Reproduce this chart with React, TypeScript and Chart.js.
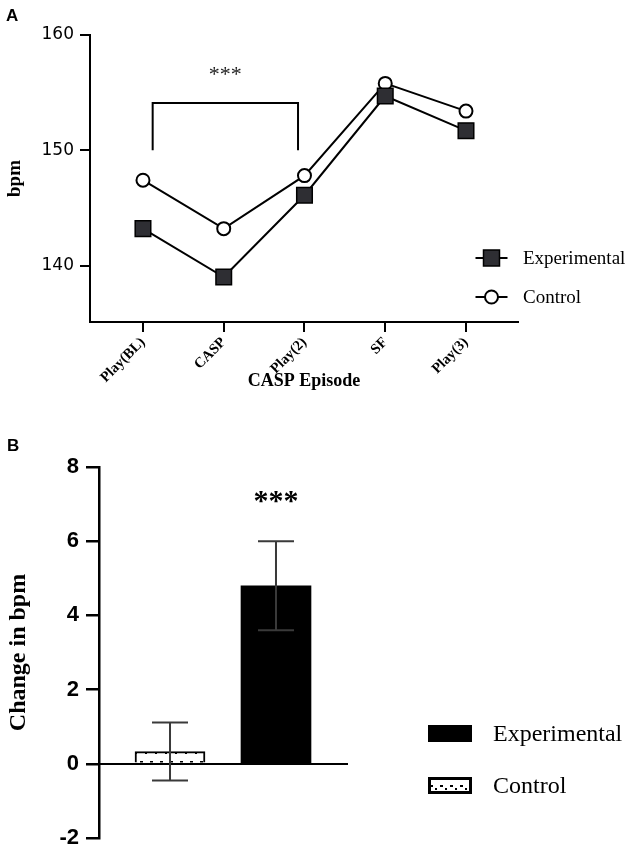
import React, { useEffect, useRef } from "react";
import { Chart, registerables } from "chart.js";

Chart.register(...registerables);

// ---------- Data (panel A) ----------
const episodes = ["Play(BL)", "CASP", "Play(2)", "SF", "Play(3)"];
const experimentalBpm = [143.2, 139.0, 146.1, 154.7, 151.7];
const controlBpm = [147.4, 143.2, 147.8, 155.8, 153.4];
const bpmTicks = [140, 150, 160];
const seriesLabels = ["Experimental", "Control"];

// significance bracket between Play(BL) and Play(2) (data units)
const bracketX = [0.12, 1.92];
const bracketY = [150, 154.1];
const bracketStarPos = [1.02, 156.9];

// ---------- Data (panel B) ----------
const groupsB = ["Control", "Experimental"];
const changeMeans = [0.33, 4.8];
const changeErrors = [0.78, 1.2];
const changeTicks = [-2, 0, 2, 4, 6, 8];
const starPosB = [1, 7.2];

const serif = "'Liberation Serif', 'Times New Roman', serif";
const sans = "'Liberation Sans', Arial, sans-serif";
const wideSans = "'DejaVu Sans', 'Liberation Sans', sans-serif";

function makePattern(): CanvasPattern | string {
  const c = document.createElement("canvas");
  c.width = 10;
  c.height = 12;
  const g = c.getContext("2d");
  if (!g) return "#fff";
  g.fillStyle = "#fff";
  g.fillRect(0, 0, 10, 12);
  g.fillStyle = "#000";
  g.fillRect(0, 5, 3, 2);
  g.fillRect(5, 8, 2, 2);
  const ctx = document.createElement("canvas").getContext("2d");
  return ctx ? (ctx.createPattern(c, "repeat") as CanvasPattern) : "#fff";
}

export default function App() {
  const refA = useRef<HTMLCanvasElement | null>(null);
  const refB = useRef<HTMLCanvasElement | null>(null);

  useEffect(() => {
    if (!refA.current || !refB.current) return;

    const annotA = {
      id: "annotA",
      afterDatasetsDraw(chart: any) {
        const { ctx } = chart;
        const xs = chart.scales.x;
        const ys = chart.scales.y;
        ctx.save();
        // bracket
        const x1 = xs.getPixelForValue(bracketX[0]);
        const x2 = xs.getPixelForValue(bracketX[1]);
        const yb = ys.getPixelForValue(bracketY[0]);
        const yt = ys.getPixelForValue(bracketY[1]);
        ctx.strokeStyle = "#000";
        ctx.lineWidth = 2;
        ctx.beginPath();
        ctx.moveTo(x1, yb);
        ctx.lineTo(x1, yt);
        ctx.lineTo(x2, yt);
        ctx.lineTo(x2, yb);
        ctx.stroke();
        ctx.fillStyle = "#222";
        ctx.font = `22px ${serif}`;
        ctx.textAlign = "center";
        ctx.textBaseline = "middle";
        ctx.fillText("***", xs.getPixelForValue(bracketStarPos[0]), ys.getPixelForValue(bracketStarPos[1]) + 4);

        // panel letter
        ctx.fillStyle = "#000";
        ctx.font = `bold 17px ${sans}`;
        ctx.textAlign = "left";
        ctx.textBaseline = "middle";
        ctx.fillText("A", 6, 16);

        // legend
        const lx = 491.5;
        const rows = [258, 297];
        rows.forEach((y, i) => {
          ctx.strokeStyle = "#000";
          ctx.lineWidth = 2;
          ctx.beginPath();
          ctx.moveTo(lx - 16, y);
          ctx.lineTo(lx + 16, y);
          ctx.stroke();
          if (i === 0) {
            ctx.fillStyle = "#2e2e33";
            ctx.fillRect(lx - 8, y - 8, 16, 16);
            ctx.lineWidth = 1.5;
            ctx.strokeRect(lx - 8, y - 8, 16, 16);
          } else {
            ctx.fillStyle = "#fff";
            ctx.beginPath();
            ctx.arc(lx, y, 6.5, 0, Math.PI * 2);
            ctx.fill();
            ctx.lineWidth = 2;
            ctx.stroke();
          }
          ctx.fillStyle = "#000";
          ctx.font = `19px ${serif}`;
          ctx.textAlign = "left";
          ctx.textBaseline = "middle";
          ctx.fillText(seriesLabels[i], 523, y + 1);
        });
        ctx.restore();
      },
    };

    const chartA = new Chart(refA.current, {
      type: "line",
      data: {
        datasets: [
          {
            label: seriesLabels[0],
            data: experimentalBpm.map((y, i) => ({ x: i, y })),
            borderColor: "#000",
            borderWidth: 2,
            pointStyle: "rect",
            pointRadius: 11,
            pointBackgroundColor: "#2e2e33",
            pointBorderColor: "#000",
            pointBorderWidth: 1.5,
            fill: false,
            tension: 0,
          },
          {
            label: seriesLabels[1],
            data: controlBpm.map((y, i) => ({ x: i, y })),
            borderColor: "#000",
            borderWidth: 2,
            pointStyle: "circle",
            pointRadius: 6.5,
            pointBackgroundColor: "#fff",
            pointBorderColor: "#000",
            pointBorderWidth: 2,
            fill: false,
            tension: 0,
          },
        ],
      },
      options: {
        animation: false,
        responsive: false,
        layout: { padding: { left: 0, top: 35, right: 112, bottom: 455 } },
        plugins: { legend: { display: false }, tooltip: { enabled: false } },
        scales: {
          x: {
            type: "linear",
            min: -0.656,
            max: 4.644,
            offset: false,
            afterBuildTicks: (s: any) => {
              s.ticks = episodes.map((_, i) => ({ value: i }));
            },
            afterFit: (s: any) => {
              s.height = 74;
            },
            ticks: {
              autoSkip: false,
              minRotation: 45,
              maxRotation: 45,
              padding: 2,
              color: "#000",
              font: { family: serif, size: 14.5, weight: "bold" },
              callback: (v: any) => episodes[v] ?? "",
            },
            grid: { drawOnChartArea: false, drawTicks: true, tickLength: 10, color: "#000", lineWidth: 2 },
            border: { display: true, color: "#000", width: 2 },
            title: {
              display: true,
              text: "CASP Episode",
              color: "#000",
              font: { family: serif, size: 18, weight: "bold" },
            },
          },
          y: {
            type: "linear",
            min: 135.1,
            max: 160,
            afterBuildTicks: (s: any) => {
              s.ticks = bpmTicks.map((v) => ({ value: v }));
            },
            afterFit: (s: any) => {
              s.width = 90;
            },
            ticks: { color: "#000", padding: 6, font: { family: wideSans, size: 17 } },
            grid: { drawOnChartArea: false, drawTicks: true, tickLength: 10, color: "#000", lineWidth: 2 },
            border: { display: true, color: "#000", width: 2 },
            title: {
              display: true,
              text: "bpm",
              color: "#000",
              font: { family: serif, size: 19, weight: "bold" },
            },
          },
        },
      },
      plugins: [annotA],
    } as any);

    const pattern = makePattern();

    const annotB = {
      id: "annotB",
      afterDatasetsDraw(chart: any) {
        const { ctx } = chart;
        const xs = chart.scales.x;
        const ys = chart.scales.y;
        ctx.save();
        // error bars
        ctx.strokeStyle = "#3a3a3a";
        ctx.lineWidth = 2;
        changeMeans.forEach((m, i) => {
          const x = xs.getPixelForValue(i);
          const yTop = ys.getPixelForValue(m + changeErrors[i]);
          const yBot = ys.getPixelForValue(m - changeErrors[i]);
          ctx.beginPath();
          ctx.moveTo(x, yTop);
          ctx.lineTo(x, yBot);
          ctx.moveTo(x - 18, yTop);
          ctx.lineTo(x + 18, yTop);
          ctx.moveTo(x - 18, yBot);
          ctx.lineTo(x + 18, yBot);
          ctx.stroke();
        });
        // significance
        ctx.fillStyle = "#000";
        ctx.font = `bold 30px ${serif}`;
        ctx.textAlign = "center";
        ctx.textBaseline = "middle";
        ctx.fillText("***", xs.getPixelForValue(starPosB[0]), ys.getPixelForValue(starPosB[1]) + 6);

        // panel letter
        ctx.font = `bold 17px ${sans}`;
        ctx.textAlign = "left";
        ctx.fillText("B", 7, 446);

        // legend
        const bx = 428;
        const rows = [733.5, 785.5];
        const order = [1, 0];
        rows.forEach((y, k) => {
          const i = order[k];
          if (i === 1) {
            ctx.fillStyle = "#000";
            ctx.fillRect(bx, y - 8.5, 44, 17);
          } else {
            ctx.fillStyle = pattern;
            ctx.fillRect(bx, y - 8.5, 44, 17);
            ctx.strokeStyle = "#000";
            ctx.lineWidth = 3;
            ctx.strokeRect(bx + 1.5, y - 7, 41, 14);
          }
          ctx.fillStyle = "#000";
          ctx.font = `24px ${serif}`;
          ctx.textAlign = "left";
          ctx.textBaseline = "middle";
          ctx.fillText(groupsB[i], 493, y + 1);
        });
        ctx.restore();
      },
    };

    const chartB = new Chart(refB.current, {
      type: "bar",
      data: {
        datasets: [
          {
            label: groupsB[0],
            data: [{ x: 0, y: changeMeans[0] }],
            backgroundColor: pattern,
            borderColor: "#000",
            borderWidth: 2,
            barThickness: 70,
            grouped: false,
          },
          {
            label: groupsB[1],
            data: [{ x: 1, y: changeMeans[1] }],
            backgroundColor: "#000",
            borderWidth: 0,
            barThickness: 70,
            grouped: false,
          },
        ],
      },
      options: {
        animation: false,
        responsive: false,
        layout: { padding: { left: 0, top: 467, right: 283, bottom: 13 } },
        plugins: { legend: { display: false }, tooltip: { enabled: false } },
        scales: {
          x: {
            type: "linear",
            min: -0.67,
            max: 1.67,
            offset: false,
            position: { y: 0 },
            ticks: { display: false },
            grid: { display: false },
            border: { display: true, color: "#000", width: 2 },
          },
          y: {
            type: "linear",
            min: -2,
            max: 8,
            afterBuildTicks: (s: any) => {
              s.ticks = changeTicks.map((v) => ({ value: v }));
            },
            afterFit: (s: any) => {
              s.width = 99;
              s.paddingTop = 0;
              s.paddingBottom = 0;
            },
            ticks: { color: "#000", padding: 7, font: { family: sans, size: 22, weight: "bold" } },
            grid: { drawOnChartArea: false, drawTicks: true, tickLength: 13, color: "#000", lineWidth: 2.5 },
            border: { display: true, color: "#000", width: 2.5 },
            title: {
              display: true,
              text: "Change in bpm",
              color: "#000",
              font: { family: serif, size: 24, weight: "bold" },
            },
          },
        },
      },
      plugins: [annotB],
    } as any);

    return () => {
      chartA.destroy();
      chartB.destroy();
    };
  }, []);

  return (
    <div style={{ position: "absolute", left: 0, top: 0, width: 630, height: 851, background: "#fff" }}>
      <canvas ref={refA} width={630} height={851} style={{ position: "absolute", left: 0, top: 0 }} />
      <canvas ref={refB} width={630} height={851} style={{ position: "absolute", left: 0, top: 0 }} />
    </div>
  );
}
